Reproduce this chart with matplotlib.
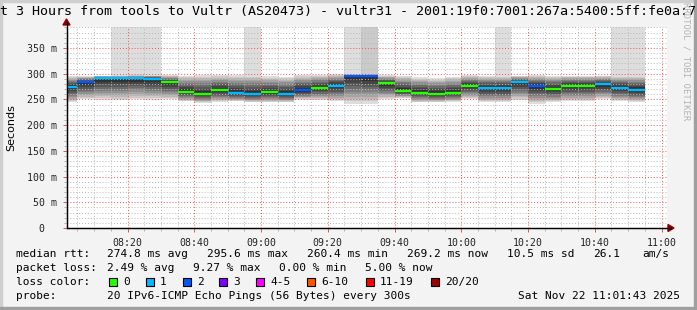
import matplotlib
matplotlib.use("Agg")
import matplotlib.pyplot as plt
from matplotlib.patches import Rectangle, Polygon

W, H = 697, 310

# 5 minute steps, start of each step
times = ["08:00", "08:05", "08:10", "08:15", "08:20", "08:25", "08:30", "08:35",
         "08:40", "08:45", "08:50", "08:55", "09:00", "09:05", "09:10", "09:15",
         "09:20", "09:25", "09:30", "09:35", "09:40", "09:45", "09:50", "09:55",
         "10:00", "10:05", "10:10", "10:15", "10:20", "10:25", "10:30", "10:35",
         "10:40", "10:45", "10:50"]
# median rtt (ms)
median = [275, 283, 291, 291, 291, 290, 283, 265, 261, 268, 263, 261, 264, 261,
          268, 273, 277, 296, 295, 281, 267, 263, 261, 263, 277, 272, 272, 283,
          276, 271, 276, 277, 279, 273, 269]
# smoke extent (ms)
smoke_lo = [244, 250, 249, 248, 250, 249, 250, 246, 243, 245, 246, 244, 244, 244,
            249, 248, 246, 242, 242, 250, 252, 244, 244, 245, 250, 244, 244, 248,
            242, 244, 246, 246, 250, 246, 244]
smoke_hi = [295, 295, 296, 296, 297, 297, 297, 296, 297, 297, 297, 297, 295, 294,
            297, 297, 299, 298, 298, 297, 296, 293, 291, 294, 297, 296, 296, 296,
            297, 296, 296, 296, 296, 296, 296]
# pings above the top of the graph
offscale = [0, 0, 0, 1, 1, 1, 0, 0, 0, 0, 0, 1, 0, 0, 0, 0, 0, 1, 2, 0, 0, 0, 0,
            0, 0, 0, 1, 0, 0, 0, 0, 0, 0, 1, 1]
# lost pings out of 20
lost = [1, 2, 1, 1, 1, 1, 0, 0, 0, 0, 1, 1, 0, 1, 2, 0, 1, 2, 2, 0, 0, 0, 0, 0,
        0, 1, 1, 1, 2, 0, 0, 0, 1, 1, 1]

loss_labels = ["0", "1", "2", "3", "4-5", "6-10", "11-19", "20/20"]
loss_colors = ["#26ff00", "#00b8ff", "#0059ff", "#7e00ff", "#ff00ff", "#ff5500",
               "#ff0000", "#a10000"]
xtick_labels = ["08:20", "08:40", "09:00", "09:20", "09:40", "10:00", "10:20",
                "10:40", "11:00"]
ytick_vals = [0, 50, 100, 150, 200, 250, 300, 350]

def minutes(s):
    h, m = s.split(":")
    return (int(h) - 8) * 60 + int(m)

def fx(x):
    return x / W

def fy(y):
    return 1 - y / H

mono = "DejaVu Sans Mono"
fig = plt.figure(figsize=(W / 100, H / 100), dpi=100, facecolor="#f3f3f3")

# frame
fig.patches.append(Rectangle((0, fy(2)), 1, 2 / H, transform=fig.transFigure, color="#cfcfcf"))
fig.patches.append(Rectangle((0, 0), 2 / W, 1, transform=fig.transFigure, color="#cfcfcf"))
fig.patches.append(Rectangle((0, 0), 1, 3 / H, transform=fig.transFigure, color="#9f9f9f"))
fig.patches.append(Rectangle((fx(W - 3), 0), 3 / W, 1, transform=fig.transFigure, color="#9f9f9f"))

left, right, top, bottom = 66.5, 667.25, 27.4, 228
ax = fig.add_axes([fx(left), fy(bottom), (right - left) / W, (bottom - top) / H])
ax.set_facecolor("white")
ax.set_xlim(1.717, 181.717)
ax.set_ylim(0, 390)

n_layers = 10
for i, t in enumerate(times):
    x0 = minutes(t)
    med, lo, hi = median[i], smoke_lo[i], smoke_hi[i]
    for k in range(n_layers, 0, -1):
        f = (k / n_layers) ** 0.8
        g = (19 * (k - 1) + 50) / 255
        b = med - f * (med - lo)
        tp = med + f * (hi - med)
        ax.bar(x0, tp - b, bottom=b, width=5, align="edge", color=(g, g, g),
               linewidth=0, zorder=1)
    if offscale[i]:
        g = (221 - 19 * (offscale[i] - 1)) / 255
        ax.bar(x0, 400 - hi, bottom=hi, width=5, align="edge", color=(g, g, g),
               linewidth=0, zorder=1)
    ax.hlines(med, x0, x0 + 5, color=loss_colors[lost[i]], linewidth=1.7, zorder=3)

ax.set_xticks([20 * (j + 1) for j in range(len(xtick_labels))])
ax.set_xticklabels(xtick_labels, fontfamily=mono, fontsize=7.1)
ax.set_xticks(range(5, 181, 5), minor=True)
ax.set_yticks(ytick_vals)
ax.set_yticklabels([("%d m" % v) if v else "0  " for v in ytick_vals], fontfamily=mono, fontsize=7.1)
ax.set_yticks(range(10, 391, 10), minor=True)

ax.set_axisbelow(False)
ax.grid(which="minor", color=(0.72, 0.72, 0.72, 0.7), linestyle=(0, (1, 2)), linewidth=0.7)
ax.grid(which="major", color=(1, 0.3, 0.3, 0.55), linestyle=(0, (1, 2)), linewidth=0.7)
ax.tick_params(which="major", direction="out", length=3, width=0.7, color="#e05050", pad=4)
ax.tick_params(which="minor", direction="out", length=2, width=0.7, color="#b0b0b0")
ax.tick_params(axis="both", labelcolor="#222222")

for s in ["top", "right"]:
    ax.spines[s].set_visible(False)
for s in ["left", "bottom"]:
    ax.spines[s].set_linewidth(0.9)
    ax.spines[s].set_color("black")

# axis arrows
fig.lines.append(plt.Line2D([fx(left), fx(671)], [fy(bottom), fy(bottom)], transform=fig.transFigure, color="black", linewidth=0.9))
fig.lines.append(plt.Line2D([fx(left), fx(left)], [fy(bottom), fy(22)], transform=fig.transFigure, color="black", linewidth=0.9))
fig.patches.append(Polygon([(fx(668), fy(bottom - 3.5)), (fx(674), fy(bottom)), (fx(668), fy(bottom + 3.5))],
                           closed=True, transform=fig.transFigure, color="#8b0000"))
fig.patches.append(Polygon([(fx(left - 3.5), fy(25)), (fx(left), fy(19)), (fx(left + 3.5), fy(25))],
                           closed=True, transform=fig.transFigure, color="#8b0000"))

# title, cut off at both sides like the original
fig.text(fx(-24), fy(11), "Last 3 Hours from tools to Vultr (AS20473) - vultr31 - 2001:19f0:7001:267a:5400:5ff:fe0a:7",
         fontfamily=mono, fontsize=9.6, ha="left", va="center", color="black")
fig.text(fx(686), fy(2), "RRDTOOL / TOBI OETIKER", fontfamily=mono, fontsize=6.4,
         rotation=270, ha="center", va="top", color="#b4b4b4")
fig.text(fx(11), fy(128), "Seconds", fontsize=8, rotation=90, ha="center", va="center", color="black")

lfs = 8.0
y1, y2, y3, y4 = 254, 268, 282, 296
fig.text(fx(16), fy(y1), "median rtt:", fontfamily=mono, fontsize=lfs, va="center")
for x, s in zip([107, 207, 307, 407, 507, 593, 642],
                ["274.8 ms avg", "295.6 ms max", "260.4 ms min", "269.2 ms now", "10.5 ms sd", "26.1", "am/s"]):
    fig.text(fx(x), fy(y1), s, fontfamily=mono, fontsize=lfs, va="center")
fig.text(fx(16), fy(y2), "packet loss:", fontfamily=mono, fontsize=lfs, va="center")
for x, s in zip([107, 193, 279, 365], ["2.49 % avg", "9.27 % max", "0.00 % min", "5.00 % now"]):
    fig.text(fx(x), fy(y2), s, fontfamily=mono, fontsize=lfs, va="center")
fig.text(fx(16), fy(y3), "loss color:", fontfamily=mono, fontsize=lfs, va="center")
box_x = [109, 146, 183, 219, 256, 307, 366, 431]
for x, lab, c in zip(box_x, loss_labels, loss_colors):
    fig.patches.append(Rectangle((fx(x), fy(y3 + 4)), 8 / W, 8 / H, transform=fig.transFigure,
                                 facecolor=c, edgecolor="black", linewidth=0.8))
    fig.text(fx(x + 14), fy(y3), lab, fontfamily=mono, fontsize=lfs, va="center")
fig.text(fx(16), fy(y4), "probe:", fontfamily=mono, fontsize=lfs, va="center")
fig.text(fx(107), fy(y4), "20 IPv6-ICMP Echo Pings (56 Bytes) every 300s", fontfamily=mono, fontsize=lfs, va="center")
fig.text(fx(680), fy(y4), "Sat Nov 22 11:01:43 2025", fontfamily=mono, fontsize=lfs, va="center", ha="right")

fig.savefig("out.png", dpi=100, facecolor=fig.get_facecolor())
